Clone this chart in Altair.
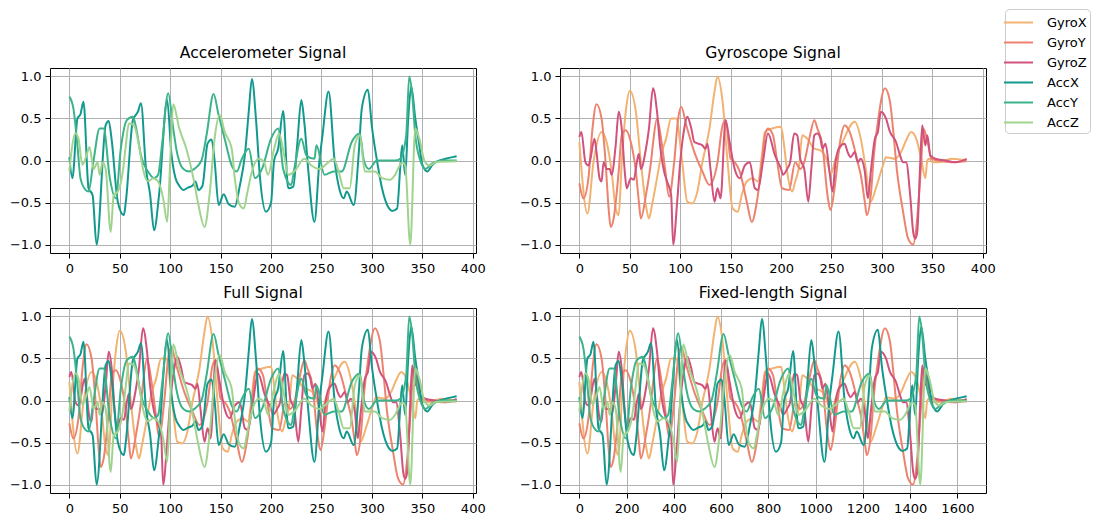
import altair as alt
import pandas as pd

SERIES = ["GyroX", "GyroY", "GyroZ", "AccX", "AccY", "AccZ"]
COLORS = ["#f2b272", "#ec836e", "#d1527b", "#12998e", "#3bb38a", "#a0d48e"]

# ---- Accelerometer (sample index, normalised value) ----
accx_t = [0, 3, 8, 11, 14, 19, 23, 27, 36, 39, 42, 48, 54, 56, 63, 68, 71, 76, 80, 84, 89, 97, 101, 105, 109,
          113, 118, 122, 125, 128, 132, 137, 141, 144, 148, 153, 158, 164, 169, 174, 178, 181, 185, 189, 195,
          200, 203, 207, 212, 217, 222, 226, 230, 233, 237, 243, 248, 251, 257, 263, 268, 272, 275, 282, 287,
          290, 296, 300, 305, 310, 317, 320, 325, 328, 330, 333, 336, 339, 343, 347, 350, 355, 360, 367, 373,
          380, 384]
accx_v = [0.04, -0.21, 0.5, 0.55, 0.7, -0.33, -0.41, -1.0, 0.42, 0.47, 0.24, -0.49, -0.65, -0.49, 0.48,
          0.58, 0.68, -0.1, -0.4, -0.83, -0.4, 0.72, 0.1, -0.2, -0.3, -0.35, -0.32, -0.3, -0.25, -0.35,
          -0.3, 0.2, 0.25, 0.0, -0.53, -0.4, -0.52, -0.55, -0.3, 0.06, 0.6, 0.97, 0.5, -0.2, -0.61,
          -0.5, 0.0, 0.14, 0.59, -0.33, -0.31, 0.2, 0.72, 0.45, -0.13, -0.73, 0.0, 0.3, 0.82, 0.0,
          -0.35, -0.45, -0.37, -0.53, 0.1, 0.62, 0.84, 0.4, 0.0, -0.33, -0.57, -0.6, -0.57, -0.1, 0.18,
          -0.17, 0.5, 0.88, 0.5, 0.18, -0.05, -0.13, -0.05, 0.0, 0.02, 0.04, 0.05]

accy_t = [0, 4, 8, 11, 16, 19, 24, 30, 34, 40, 46, 51, 57, 63, 66, 71, 78, 84, 88, 92, 98, 103, 106, 113, 119,
          124, 131, 136, 143, 148, 154, 161, 166, 171, 178, 184, 191, 200, 207, 212, 220, 223, 230, 235, 243,
          245, 253, 262, 270, 280, 288, 292, 297, 305, 323, 328, 334, 337, 340, 343, 348, 353, 360, 370, 384]
accy_v = [0.76, 0.62, 0.18, -0.21, -0.35, -0.37, 0.0, 0.38, 0.38, -0.2, -0.45, 0.14, 0.48, 0.52, 0.4,
          0.06, -0.13, -0.21, -0.17, 0.2, 0.8, 0.38, 0.14, -0.1, -0.13, -0.1, 0.0, 0.3, 0.79, 0.54,
          0.26, -0.06, -0.13, 0.02, 0.14, -0.21, -0.1, 0.26, 0.38, -0.1, -0.29, -0.1, 0.26, 0.06, 0.02,
          0.18, -0.17, -0.13, -0.13, 0.22, 0.32, 0.0, -0.1, 0.0, 0.0, 0.02, 0.3, 1.0, 0.78, 0.3,
          0.0, -0.1, -0.03, 0.0, 0.0]

accz_t = [0, 2, 6, 9, 13, 18, 20, 24, 28, 30, 33, 36, 41, 44, 48, 53, 56, 59, 64, 69, 73, 78, 83, 88, 93,
          97, 100, 103, 109, 116, 123, 128, 134, 139, 144, 149, 154, 161, 164, 169, 173, 176, 181, 188, 193,
          197, 203, 208, 213, 217, 223, 233, 240, 248, 257, 262, 267, 272, 278, 283, 288, 293, 303, 310, 318,
          323, 330, 333, 338, 343, 347, 352, 357, 363, 384]
accz_v = [-0.13, 0.1, 0.32, 0.26, -0.05, 0.1, 0.16, -0.1, -0.02, -0.17, -0.02, -0.1, -0.85, -0.41, -0.37,
          -0.13, 0.18, 0.44, 0.42, 0.18, -0.1, -0.25, -0.21, -0.25, -0.45, -0.73, 0.0, 0.67, 0.38, 0.14,
          -0.21, -0.53, -0.79, -0.41, 0.26, 0.54, 0.34, 0.14, -0.21, -0.53, -0.57, -0.41, -0.13, 0.02, -0.02,
          -0.17, 0.14, 0.32, 0.06, -0.17, -0.13, 0.02, -0.06, -0.1, -0.02, 0.02, -0.13, -0.33, -0.33, 0.18,
          0.3, -0.13, -0.13, -0.21, -0.23, -0.17, -0.02, -0.06, -1.0, 0.38, 0.26, 0.0, -0.06, -0.02, -0.01]

# ---- Gyroscope ----
gyrox_t = [0, 8, 14, 22, 27, 32, 36, 39, 42, 46, 50, 56, 61, 66, 69, 72, 77, 81, 86, 91, 96, 102, 107, 112, 117,
           122, 129, 134, 137, 142, 147, 152, 157, 161, 166, 172, 177, 181, 184, 191, 200, 203, 206, 211, 214,
           218, 221, 226, 233, 239, 246, 249, 254, 261, 273, 279, 284, 289, 294, 301, 304, 313, 319, 324, 329,
           334, 339, 343, 345, 347, 350, 356, 369, 384]
gyrox_v = [0.22, -0.63, -0.02, 0.34, 0.22, -0.13, -0.57, -0.65, -0.02, 0.58, 0.83, 0.58, -0.02, -0.53, -0.69,
           -0.53, -0.21, 0.06, 0.26, 0.5, 0.5, -0.02, -0.49, -0.51, -0.37, -0.02, 0.38, 0.82, 1.0, 0.7,
           -0.02, -0.57, -0.61, -0.41, -0.25, -0.21, -0.25, 0.06, 0.34, 0.38, 0.4, 0.18, -0.13, -0.37, -0.25,
           -0.06, 0.3, 0.26, 0.14, 0.12, -0.02, -0.17, 0.02, 0.22, 0.46, 0.26, -0.1, -0.49, -0.33, -0.06,
           0.04, 0.02, 0.1, 0.24, 0.34, 0.26, 0.02, -0.21, 0.0, 0.02, -0.02, -0.02, 0.02, 0.0]

gyroy_t = [0, 4, 9, 13, 17, 22, 26, 29, 31, 34, 39, 42, 46, 51, 56, 59, 61, 66, 71, 73, 77, 81, 85, 89, 94,
           98, 101, 106, 114, 122, 129, 137, 142, 145, 150, 154, 159, 166, 171, 176, 181, 184, 187, 192, 196,
           201, 208, 214, 219, 223, 228, 233, 236, 241, 246, 249, 253, 259, 263, 268, 276, 279, 283, 285, 289,
           292, 296, 303, 308, 311, 315, 321, 326, 331, 334, 339, 341, 346, 349, 356, 369, 384]
gyroy_v = [-0.27, -0.45, -0.21, 0.38, 0.67, 0.5, -0.02, -0.57, -0.79, -0.69, -0.13, 0.3, 0.36, 0.22, -0.13,
           -0.49, -0.69, -0.41, -0.02, 0.2, 0.5, 0.26, -0.1, -0.43, -0.02, 0.5, 0.64, 0.42, 0.1, -0.13,
           -0.29, -0.02, 0.42, 0.48, 0.02, -0.02, -0.13, -0.49, -0.73, -0.49, -0.02, 0.3, 0.38, 0.3, 0.0,
           -0.33, -0.35, -0.02, -0.1, -0.02, 0.26, 0.48, 0.38, 0.18, -0.41, -0.59, -0.33, 0.26, 0.42, 0.34,
           -0.02, -0.17, -0.49, -0.65, -0.41, 0.06, 0.46, 0.86, 0.7, 0.38, -0.13, -0.61, -0.93, -1.0, -0.81,
           -0.02, 0.38, 0.18, 0.02, 0.0, -0.02, -0.01]

gyroz_t = [0, 2, 6, 9, 11, 15, 17, 20, 22, 24, 27, 30, 32, 36, 39, 42, 45, 47, 51, 54, 57, 59, 61, 66, 69,
           73, 77, 80, 84, 87, 91, 93, 97, 100, 104, 107, 111, 114, 122, 125, 127, 130, 134, 137, 140,
           145, 149, 154, 159, 164, 169, 174, 177, 182, 187, 194, 200, 202, 206, 209, 213, 216, 219, 223, 227,
           230, 233, 236, 239, 241, 244, 248, 251, 254, 258, 263, 266, 269, 273, 276, 279, 283, 286, 289, 293,
           296, 299, 304, 308, 314, 318, 321, 324, 328, 331, 333, 335, 338, 340, 343, 345, 348, 353, 363, 373,
           384]
gyroz_v = [0.28, 0.34, -0.02, -0.06, 0.02, 0.26, 0.1, -0.21, -0.25, -0.02, -0.1, -0.1, -0.17, 0.18, 0.58,
           0.38, -0.13, -0.33, -0.21, -0.23, -0.02, 0.08, -0.1, 0.14, 0.38, 0.86, 0.58, 0.18, -0.13, -0.25,
           -0.41, -1.0, -0.49, -0.02, 0.38, 0.52, 0.38, 0.22, 0.18, 0.14, 0.2, -0.1, -0.49, -0.33, -0.45,
           0.48, 0.22, -0.1, -0.21, -0.06, -0.02, -0.33, -0.35, -0.02, 0.32, 0.06, -0.1, -0.17, -0.1, -0.02,
           0.32, 0.3, 0.02, -0.1, -0.49, -0.1, 0.3, 0.32, 0.26, 0.14, 0.2, -0.13, -0.37, -0.02, 0.16,
           0.2, 0.1, 0.04, 0.1, -0.02, 0.02, -0.13, -0.45, -0.13, 0.26, 0.34, 0.58, 0.5, 0.34, 0.22,
           0.06, -0.02, -0.02, -0.41, -0.85, -0.93, -0.85, -0.02, 0.42, 0.18, 0.3, 0.06, 0.02, 0.0, -0.02,
           0.02]

DATA = {
    "GyroX": (gyrox_t, gyrox_v), "GyroY": (gyroy_t, gyroy_v), "GyroZ": (gyroz_t, gyroz_v),
    "AccX": (accx_t, accx_v), "AccY": (accy_t, accy_v), "AccZ": (accz_t, accz_v),
}

N_LAST = 384          # last sample index of the raw recording
FIXED_LAST = 1639     # last sample index after resampling to fixed length

Y_TICKS = [-1.0, -0.5, 0.0, 0.5, 1.0]
X_TICKS_RAW = [0, 50, 100, 150, 200, 250, 300, 350, 400]
X_TICKS_FIXED = [0, 200, 400, 600, 800, 1000, 1200, 1400, 1600]


def make_df(names, scale=1.0):
    rows = []
    for order, name in enumerate(SERIES):
        if name not in names:
            continue
        t, v = DATA[name]
        for a, b in zip(t, v):
            rows.append({"x": a * scale, "y": b, "signal": name, "ord": order})
    return pd.DataFrame(rows)


LEGEND = alt.Legend(
    title=None, orient="none", legendX=955, legendY=-59,
    symbolType="M-1.57,0H1.57", symbolStrokeWidth=2, symbolSize=342,
    labelFont="DejaVu Sans", labelFontSize=13, labelColor="black", labelAlign="left",
    strokeColor="#cccccc", fillColor="white", cornerRadius=4, padding=3,
    rowPadding=2, labelOffset=18,
)

MINUS_EXPR = "(datum.value < 0 ? '\u2212' : '') + format(abs(datum.value), '.1f')"


def panel(df, title, last, ticks):
    margin = 0.05 * last
    return alt.Chart(df, title=title).mark_line(
        strokeWidth=2, interpolate="monotone", clip=True
    ).encode(
        x=alt.X("x:Q", scale=alt.Scale(domain=[-margin, last + margin], nice=False, zero=False),
                axis=alt.Axis(values=ticks, format="d", title=None)),
        y=alt.Y("y:Q", scale=alt.Scale(domain=[-1.1, 1.1], nice=False, zero=False),
                axis=alt.Axis(values=Y_TICKS, title=None, labelExpr=MINUS_EXPR)),
        color=alt.Color("signal:N", scale=alt.Scale(domain=SERIES, range=COLORS), legend=LEGEND),
        order=alt.Order("ord:Q"),
    ).properties(width=426, height=185)


p1 = panel(make_df(["AccX", "AccY", "AccZ"]), "Accelerometer Signal", N_LAST, X_TICKS_RAW)
p2 = panel(make_df(["GyroX", "GyroY", "GyroZ"]), "Gyroscope Signal", N_LAST, X_TICKS_RAW)
p3 = panel(make_df(SERIES), "Full Signal", N_LAST, X_TICKS_RAW)
p4 = panel(make_df(SERIES, FIXED_LAST / N_LAST), "Fixed-length Signal", FIXED_LAST, X_TICKS_FIXED)

chart = alt.concat(
    p1, p2, p3, p4, columns=2,
    spacing=alt.RowColnumber(row=55, column=84), bounds="flush",
).properties(
    padding={"left": 0, "top": 0, "right": 0, "bottom": 2}
).configure_view(
    stroke="black", strokeWidth=1
).configure_axis(
    grid=True, gridColor="#b0b0b0", gridWidth=1, gridOpacity=1, domain=False,
    tickColor="black", tickSize=5, tickWidth=1,
    labelFont="DejaVu Sans", labelFontSize=13, labelColor="black", labelPadding=4,
).configure_title(
    font="DejaVu Sans", fontSize=15.6, fontWeight="normal", color="black",
    offset=6, anchor="middle", baseline="alphabetic",
)

chart.save("out.html", embed_options={"renderer": "svg", "actions": False})
